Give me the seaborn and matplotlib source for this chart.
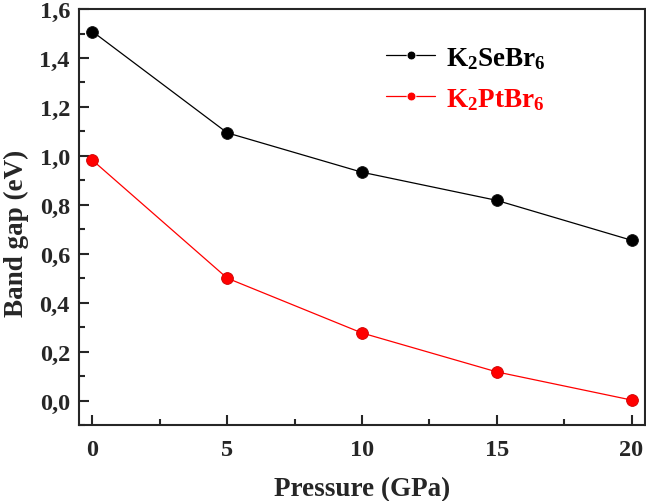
import pandas as pd
import matplotlib.pyplot as plt
import matplotlib.ticker as mticker
import seaborn as sns

pressure = [0, 5, 10, 15, 20]
gap_se = [1.508, 1.094, 0.933, 0.818, 0.655]
gap_pt = [0.982, 0.500, 0.276, 0.117, 0.002]
labels = [r'K$_2$SeBr$_6$', r'K$_2$PtBr$_6$']
colors = ['black', 'red']

df = pd.DataFrame({
    'P': pressure * 2,
    'Eg': gap_se + gap_pt,
    'mat': [labels[0]] * 5 + [labels[1]] * 5,
})

sns.set_theme(style="ticks")
plt.rcParams['font.family'] = ['Liberation Serif', 'DejaVu Serif']
plt.rcParams['font.weight'] = 'bold'
plt.rcParams['mathtext.fontset'] = 'custom'
plt.rcParams['mathtext.rm'] = 'Liberation Serif:bold'
plt.rcParams['mathtext.default'] = 'rm'

fig = plt.figure(figsize=(6.46, 5.02), dpi=100)
ax = fig.add_axes([0.1223, 0.1514, 0.8762, 0.8286])

sns.lineplot(data=df, x='P', y='Eg', hue='mat', palette=colors, marker='o',
             markersize=8.5, markeredgewidth=0.6, linewidth=0.9, ax=ax)
for line, c in zip(ax.lines, ['#111111', '#cc0000']):
    line.set_markeredgecolor(c)

ax.set_xlim(-0.5, 20.5)
ax.set_ylim(-0.1, 1.6)
ax.xaxis.set_major_locator(mticker.MultipleLocator(5))
ax.xaxis.set_minor_locator(mticker.MultipleLocator(2.5))
ax.yaxis.set_major_locator(mticker.MultipleLocator(0.2))
ax.yaxis.set_minor_locator(mticker.MultipleLocator(0.1))
ax.yaxis.set_major_formatter(mticker.FuncFormatter(lambda v, p: f'{v:.1f}'.replace('.', ',')))

ax.tick_params(axis='x', which='major', direction='in', length=7, width=1.5, labelsize=17.5, pad=10)
ax.tick_params(axis='x', which='minor', direction='in', length=4, width=1.5)
ax.tick_params(axis='y', which='major', direction='in', length=7, width=1.5, labelsize=17.5, pad=6.5)
ax.tick_params(axis='y', which='minor', direction='in', length=4, width=1.5)
for s in ax.spines.values():
    s.set_linewidth(1.5)

ax.set_xlabel('Pressure (GPa)', fontsize=19.5, fontweight='bold', va='center')
ax.set_ylabel('Band gap (eV)', fontsize=19.5, fontweight='bold', va='center')
ax.xaxis.set_label_coords(0.5, -0.154)
ax.yaxis.set_label_coords(-0.11, 0.462)

leg = ax.legend(loc='upper left', bbox_to_anchor=(0.5, 0.972), frameon=False,
                fontsize=19.5, handlelength=1.8, labelspacing=0.55, handletextpad=0.4,
                markerscale=0.75)
for t, c in zip(leg.get_texts(), colors):
    t.set_color(c)

fig.savefig('out.png', dpi=100)
